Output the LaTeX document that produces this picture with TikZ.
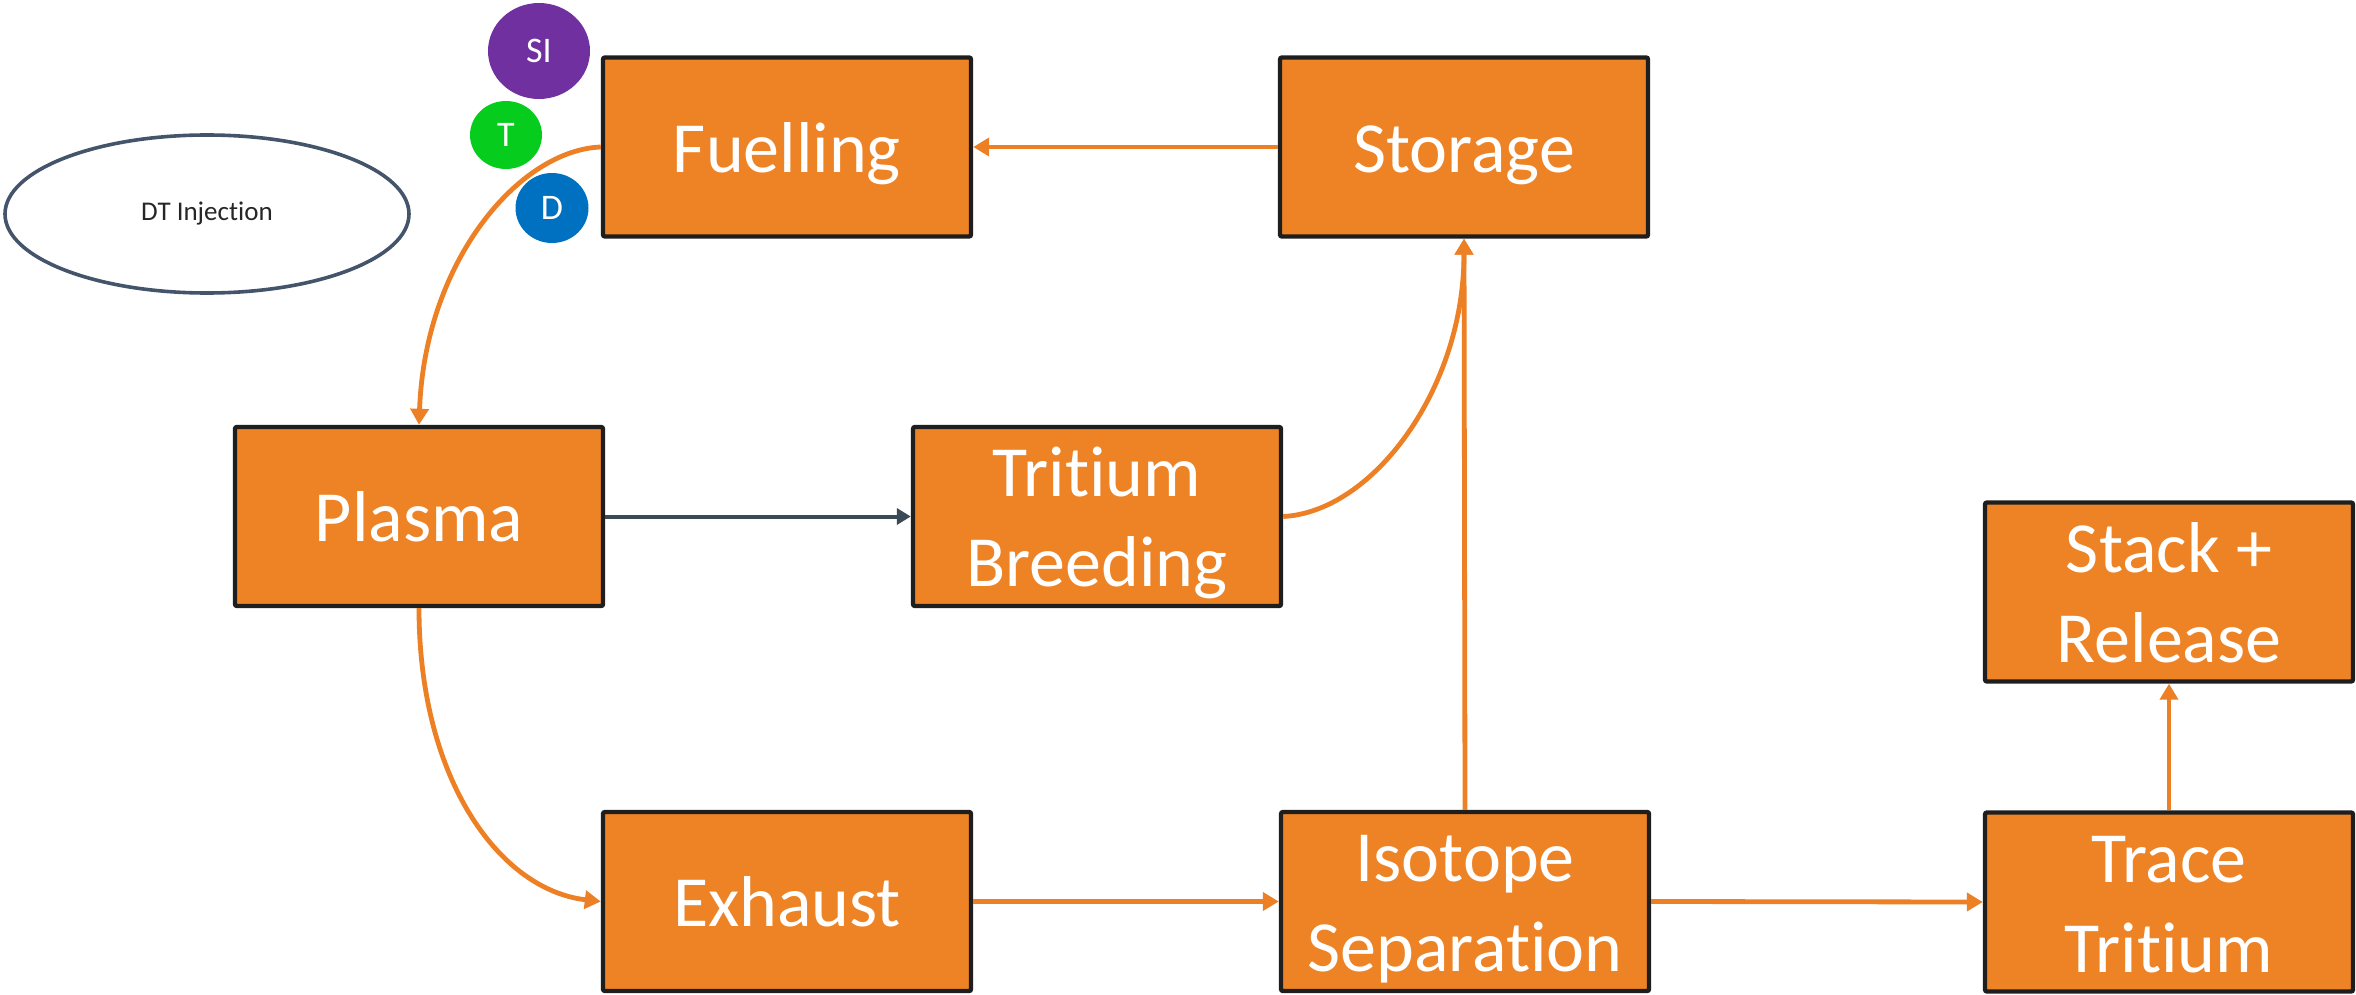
\documentclass[tikz,border=0pt]{standalone}
\usepackage{fontspec}
\setmainfont{Carlito}[Ligatures={NoCommon}]
\usetikzlibrary{arrows.meta,shapes.geometric}
\definecolor{boxorange}{RGB}{238,131,38}
\definecolor{lineorange}{RGB}{237,128,36}
\definecolor{edgeblack}{RGB}{30,30,30}
\definecolor{slate}{RGB}{68,84,106}
\definecolor{linkslate}{RGB}{59,74,87}
\definecolor{siPurple}{RGB}{112,48,160}
\definecolor{tGreen}{RGB}{6,204,30}
\definecolor{dBlue}{RGB}{0,112,192}
\definecolor{labelgray}{RGB}{38,38,38}
% stage captions: baseline (or midpoint of the two baselines) sits 12.5pt below the box centre
\newcommand\stageone[1]{\raisebox{0pt}[25pt][0pt]{#1}}
\newcommand\stagetwo[2]{\raisebox{0pt}[70pt][0pt]{\begin{tabular}[b]{@{}c@{}}#1\\#2\end{tabular}}}
\begin{document}
\begin{tikzpicture}[x=0.5pt,y=-0.5pt,
  stage/.style={draw=edgeblack, line width=2.2pt, fill=boxorange, rounded corners=1pt,
    minimum width=184pt, minimum height=89.5pt, inner sep=0pt, text=white,
    font=\fontsize{36}{45}\selectfont},
  isotopebubble/.style={ellipse, inner sep=0pt, text=white, font=\fontsize{18}{20}\selectfont},
  flow/.style={draw=lineorange, line width=2.4pt, -{Triangle[length=8pt,width=9pt]}},
  darkflow/.style={draw=linkslate, line width=2pt, -{Triangle[length=7pt,width=8pt]}}]
\useasboundingbox (0,0) rectangle (2356,995);

% process stages
\node[stage] (fuel)    at (787,147)    {\stageone{Fuelling}};
\node[stage] (store)   at (1464,147)   {\stageone{Storage}};
\node[stage] (plasma)  at (419,516.5)  {\stageone{Plasma}};
\node[stage] (breed)   at (1097,516.5) {\stagetwo{Tritium}{Breeding}};
\node[stage] (stack)   at (2169,592)   {\stagetwo{Stack +}{Release}};
\node[stage] (exhaust) at (787,901.5)  {\stageone{Exhaust}};
\node[stage] (iso)     at (1465,901.5) {\stagetwo{Isotope}{Separation}};
\node[stage] (trace)   at (2169,902)   {\stagetwo{Trace}{Tritium}};

% injection label and fuel species
\node[ellipse, draw=slate, line width=1.8pt, minimum width=202pt, minimum height=79pt,
      inner sep=0pt, text=labelgray, font=\fontsize{13.5}{15}\selectfont] (dt) at (207,214) {DT Injection};
\node[isotopebubble, fill=siPurple, minimum width=51pt, minimum height=48pt] (si) at (539,51)  {SI};
\node[isotopebubble, fill=tGreen,   minimum width=36pt, minimum height=34pt] (t)  at (506,135) {T};
\node[isotopebubble, fill=dBlue,    minimum width=36.5pt, minimum height=35pt] (d) at (552,208) {D};

% flows
\draw[flow] (store.west) -- (fuel.east);
\draw[flow] (fuel.west) .. controls (520,150) and (425,260) .. (plasma.north);
\draw[darkflow] (plasma.east) -- (breed.west);
\draw[flow] (plasma.south) .. controls (419,780) and (500,890) .. (exhaust.west);
\draw[flow] (exhaust.east) -- (iso.west);
\draw[flow] (breed.east) .. controls (1372,512) and (1464,390) .. (store.south);
\draw[flow] (iso.north) -- (store.south);
\draw[flow] (iso.east) -- (trace.west);
\draw[flow] (trace.north) -- (stack.south);
\end{tikzpicture}
\end{document}
